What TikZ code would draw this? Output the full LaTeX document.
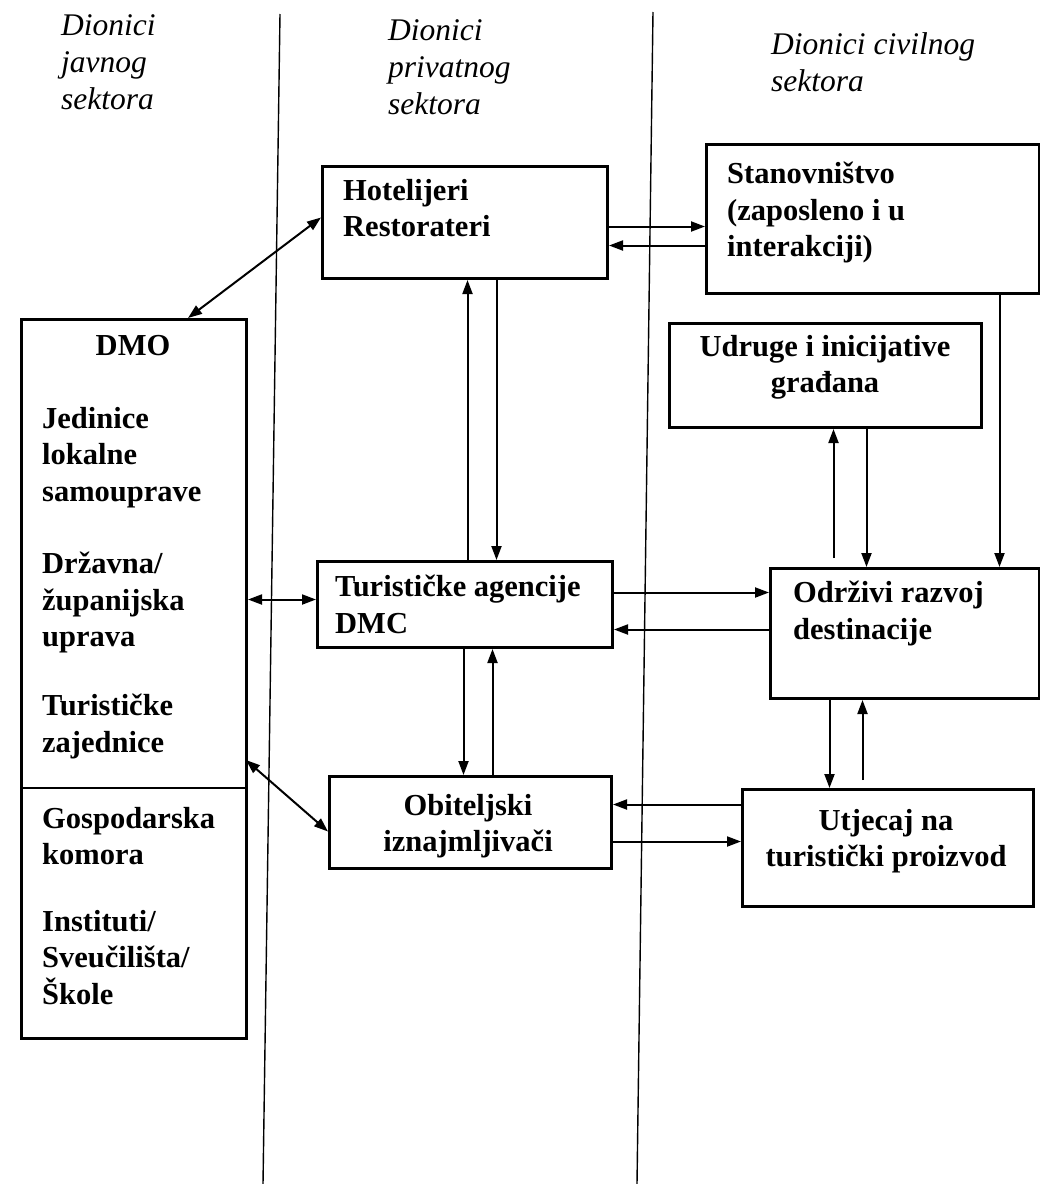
\documentclass[tikz,border=0pt]{standalone}
\usepackage{fontspec}
\setmainfont{Liberation Serif}
\usetikzlibrary{arrows.meta,calc}
\begin{document}
\begin{tikzpicture}[x=1pt,y=-1pt,
 box/.style={draw, line width=3pt, inner sep=0pt, anchor=north west},
 txt/.style={font=\fontsize{30.5}{36.5}\selectfont\bfseries, align=left, inner sep=0pt, anchor=north west},
 ctxt/.style={font=\fontsize{30.5}{36}\selectfont\bfseries, align=center, inner sep=0pt, anchor=north},
 hdr/.style={font=\fontsize{31.5}{37}\selectfont\itshape, align=left, inner sep=0pt, anchor=north west},
 con/.style={line width=2pt, -{Triangle[length=14pt,width=10pt]}},
 bicon/.style={line width=2pt, {Triangle[length=14pt,width=10pt]}-{Triangle[length=14pt,width=10pt]}},
 divider/.style={line width=1.4pt}]
\useasboundingbox[fill=white] (0,0) rectangle (1040,1184);

% dividers
\coordinate (v1t) at (280,14); \coordinate (v1b) at (263,1184);
\coordinate (v2t) at (653,12); \coordinate (v2b) at (637,1184);
\draw[divider] (v1t) -- (v1b);
\draw[divider] (v2t) -- (v2b);

% headers
\node[hdr] (h1) at (61,14) {Dionici\\javnog\\sektora};
\node[hdr] (h2) at (388,19) {Dionici\\privatnog\\sektora};
\node[hdr] (h3) at (771,32) {Dionici civilnog\\sektora};

% boxes
\node[box, minimum width=285pt, minimum height=112pt] (hot) at (321,165) {};
\node[box, minimum width=333pt, minimum height=149pt] (stan) at (705,143) {};
\node[box, minimum width=225pt, minimum height=719pt] (dmo) at (20,318) {};
\node[box, minimum width=312pt, minimum height=104pt] (udr) at (668,322) {};
\node[box, minimum width=295pt, minimum height=86pt] (tur) at (316,560) {};
\node[box, minimum width=269pt, minimum height=130pt] (odr) at (769,567) {};
\node[box, minimum width=282pt, minimum height=92pt] (obi) at (328,775) {};
\node[box, minimum width=291pt, minimum height=117pt] (utj) at (741,788) {};

\coordinate (sep) at ($(dmo.north west)+(0,470)$);
\draw[line width=2.4pt] (sep) -- (sep -| dmo.east);

% texts
\node[txt] (hotT) at (343,179) {Hotelijeri\\Restorateri};
\node[txt] (stanT) at (727,162) {Stanovništvo\\(zaposleno i u\\interakciji)};
\node[ctxt] (dmoT) at (133,335) {DMO};
\node[txt] (dmo1) at (42,407) {Jedinice\\lokalne\\samouprave};
\node[txt] (dmo2) at (42,552) {Državna/\\županijska\\uprava};
\node[txt] (dmo3) at (42,694) {Turističke\\zajednice};
\node[txt] (dmo4) at (42,807) {Gospodarska\\komora};
\node[txt] (dmo5) at (42,910) {Instituti/\\Sveučilišta/\\Škole};
\node[ctxt] (udrT) at (825,335) {Udruge i inicijative\\građana};
\node[txt] (turT) at (335,575) {Turističke agencije\\DMC};
\node[txt] (odrT) at (793,581) {Održivi razvoj\\destinacije};
\node[ctxt] (obiT) at (468,794) {Obiteljski\\iznajmljivači};
\node[ctxt] (utjT) at (886,809) {Utjecaj na\\turistički proizvod};

% connectors
\coordinate (d1) at ($(dmo.north west)+(168,0)$);
\coordinate (a1) at ($(hot.west)+(0,-5)$);
\draw[bicon] (d1) -- (a1);

\coordinate (a2) at ($(hot.east)+(0,4)$);
\coordinate (a3) at ($(hot.east)+(0,23)$);
\draw[con] (a2) -- (a2 -| stan.west);
\draw[con] (a3 -| stan.west) -- (a3);

\coordinate (t1) at ($(tur.north)+(2.5,0)$);
\coordinate (t2) at ($(tur.north)+(31.5,0)$);
\draw[con] (t1) -- (t1 |- hot.south);
\draw[con] (t2 |- hot.south) -- (t2);

\coordinate (t3) at ($(tur.west)+(0,-5)$);
\draw[bicon] (t3 -| dmo.east) -- (t3);

\coordinate (t4) at ($(tur.east)+(0,-12)$);
\coordinate (t5) at ($(tur.east)+(0,25)$);
\draw[con] (t4) -- (t4 -| odr.west);
\draw[con] (t5 -| odr.west) -- (t5);

\coordinate (o1) at ($(odr.north)+(-71.5,-9)$);
\coordinate (o2) at ($(odr.north)+(-38.5,0)$);
\draw[con] (o1) -- (o1 |- udr.south);
\draw[con] (o2 |- udr.south) -- (o2);

\coordinate (o3) at ($(odr.north)+(94.5,0)$);
\draw[con] (o3 |- stan.south) -- (o3);

\coordinate (t6) at ($(tur.south)+(-1.5,0)$);
\coordinate (t7) at ($(tur.south)+(27.5,0)$);
\draw[con] (t6) -- (t6 |- obi.north);
\draw[con] (t7 |- obi.north) -- (t7);

\coordinate (d2) at ($(dmo.north east)+(-2,442)$);
\coordinate (b1) at ($(obi.west)+(0,9)$);
\draw[bicon] (d2) -- (b1);

\coordinate (b2) at ($(obi.east)+(0,-18)$);
\coordinate (b3) at ($(obi.east)+(0,19)$);
\draw[con] (b2 -| utj.west) -- (b2);
\draw[con] (b3) -- (b3 -| utj.west);

\coordinate (o4) at ($(odr.south)+(-75.5,0)$);
\coordinate (o5) at ($(odr.south)+(-42.5,0)$);
\coordinate (u5) at ($(utj.north)+(-25,-8)$);
\draw[con] (o4) -- (o4 |- utj.north);
\draw[con] (o5 |- u5) -- (o5);
\end{tikzpicture}
\end{document}
